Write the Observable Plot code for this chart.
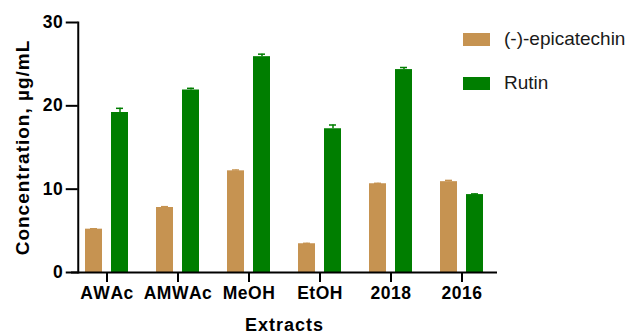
<!DOCTYPE html>
<html>
<head>
<meta charset="utf-8">
<script src="https://cdn.jsdelivr.net/npm/d3@7"></script>
<script src="https://cdn.jsdelivr.net/npm/@observablehq/plot@0.6"></script>
<style>
  body { margin: 0; background: #fff; }
  #wrap { position: relative; width: 641px; height: 333px; font-family: "Liberation Sans", Arial, sans-serif; }
  #legend { position: absolute; left: 463px; top: 29px; }
  .item { display: flex; align-items: center; height: 20px; margin-bottom: 24px; }
  .sw { width: 27px; height: 13px; margin-right: 14px; flex: none; }
  .lab { font-size: 19px; color: #1a1a1a; white-space: nowrap; font-weight: normal; letter-spacing: 0; }
  svg text { font-kerning: none; }
  svg [aria-label="y-axis label"] text { font-size: 19px; letter-spacing: 1px; }
  svg [aria-label="fx-axis label"] text { font-size: 18px; letter-spacing: 1px; }
</style>
</head>
<body>
<div id="wrap"><div id="legend"></div></div>
<script>
// Extracts on the x axis and the two compounds measured in each
const extracts = ["AWAc", "AMWAc", "MeOH", "EtOH", "2018", "2016"];
const compounds = ["(-)-epicatechin", "Rutin"];

// Mean concentration (µg/mL) and standard deviation per extract
const epicatechin   = [5.2, 7.8, 12.2, 3.45, 10.65, 10.9];
const epicatechinSd = [0.05, 0.1, 0.1, 0.05, 0.05, 0.15];
const rutin         = [19.2, 21.9, 25.9, 17.25, 24.35, 9.35];
const rutinSd       = [0.5, 0.2, 0.3, 0.45, 0.25, 0.08];

const colors = ["#C69351", "#007E00"];
const yTicks = [0, 10, 20, 30];
const xTitle = "Extracts";
const yTitle = "Concentration, µg/mL";

const rows = extracts.flatMap((e, i) => [
  {extract: e, compound: compounds[0], value: epicatechin[i], sd: epicatechinSd[i]},
  {extract: e, compound: compounds[1], value: rutin[i], sd: rutinSd[i]}
]);
const errTop = d => d.value + d.sd;

// Plot area: the axis lines sit at axisLeft; the extract groups tile fxRange
const axisLeft = 76;
const fxRange = [69.25, 498.25];
const axisShift = axisLeft - fxRange[0];

const chart = Plot.plot({
  width: 641,
  height: 333,
  marginLeft: axisLeft,
  marginRight: 146,
  marginTop: 22,
  marginBottom: 61,
  style: {
    fontFamily: '"Liberation Sans", Arial, sans-serif',
    fontSize: "17.5px", fontWeight: "bold", letterSpacing: "0.5px",
    color: "#000", background: "#fff"
  },
  fx: {domain: extracts, range: fxRange, paddingInner: 0, paddingOuter: 0},
  x: {domain: compounds, paddingInner: 0.343, paddingOuter: 0.4955, axis: null},
  y: {domain: [0, 30]},
  color: {domain: compounds, range: colors},
  marks: [
    Plot.barY(rows, {fx: "extract", x: "compound", y: "value", fill: "compound"}),
    Plot.ruleX(rows, {fx: "extract", x: "compound", y1: "value", y2: errTop, stroke: "compound", strokeWidth: 1.5}),
    Plot.tickY(rows, {fx: "extract", x: "compound", y: errTop, stroke: "compound", strokeWidth: 1.5, insetLeft: 5, insetRight: 5}),
    Plot.ruleY([0], {stroke: "#000", strokeWidth: 2}),
    Plot.frame({anchor: "left", facetAnchor: "left", dx: axisShift, stroke: "#000", strokeWidth: 2}),
    Plot.axisY({
      ticks: yTicks, tickSize: 12, tickPadding: 3, strokeWidth: 2, dx: axisShift,
      label: yTitle, labelAnchor: "center", labelArrow: false, labelOffset: 56
    }),
    Plot.axisFx({
      anchor: "bottom", tickSize: 10, tickPadding: 4, strokeWidth: 2,
      label: xTitle, labelAnchor: "center", labelArrow: false, labelOffset: 58
    })
  ]
});

const wrap = document.getElementById("wrap");
wrap.insertBefore(chart, wrap.firstChild);

// Legend built from the chart's color scale
const color = chart.scale("color");
const legend = document.getElementById("legend");
color.domain.forEach((name, i) => {
  const item = document.createElement("div");
  item.className = "item";
  const sw = document.createElement("div");
  sw.className = "sw";
  sw.style.background = color.range[i];
  const lab = document.createElement("span");
  lab.className = "lab";
  lab.textContent = name;
  item.append(sw, lab);
  legend.append(item);
});
</script>
</body>
</html>
